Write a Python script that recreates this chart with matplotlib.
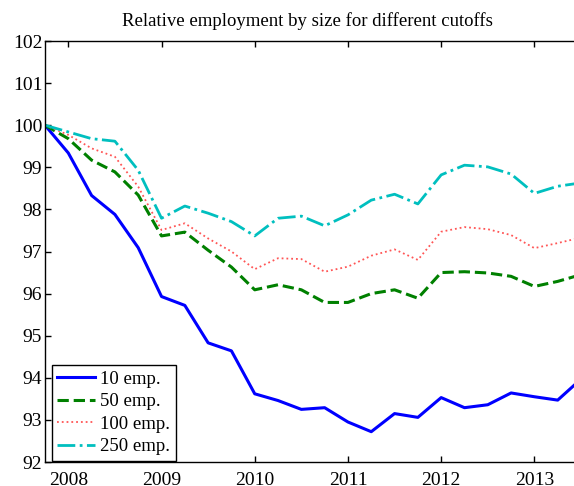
import matplotlib
matplotlib.use("Agg")
import matplotlib.pyplot as plt
import numpy as np

plt.rcParams['font.family'] = ['Liberation Serif', 'DejaVu Serif']
plt.rcParams['font.size'] = 13

quarters = [2007.75 + 0.25 * i for i in range(24)]
emp10 = [100.0, 99.34, 98.33, 97.88, 97.09, 95.93, 95.72, 94.83, 94.64, 93.62,
         93.46, 93.25, 93.29, 92.95, 92.72, 93.15, 93.06, 93.53, 93.29, 93.36,
         93.64, 93.55, 93.47, 93.97]
emp50 = [100.0, 99.68, 99.17, 98.89, 98.34, 97.37, 97.46, 97.03, 96.63, 96.09,
         96.21, 96.09, 95.79, 95.79, 96.00, 96.09, 95.89, 96.50, 96.52, 96.49,
         96.41, 96.17, 96.29, 96.45]
emp100 = [100.0, 99.77, 99.45, 99.25, 98.54, 97.51, 97.67, 97.31, 97.00, 96.58,
          96.84, 96.82, 96.52, 96.64, 96.90, 97.05, 96.80, 97.47, 97.58, 97.53,
          97.39, 97.08, 97.20, 97.33]
emp250 = [100.0, 99.84, 99.68, 99.62, 98.93, 97.79, 98.08, 97.91, 97.71, 97.37,
          97.79, 97.84, 97.61, 97.87, 98.22, 98.36, 98.13, 98.82, 99.05, 99.01,
          98.84, 98.38, 98.55, 98.63]
labels = ['10 emp.', '50 emp.', '100 emp.', '250 emp.']
xticks = [2008, 2009, 2010, 2011, 2012, 2013]
yticks = [92, 93, 94, 95, 96, 97, 98, 99, 100, 101, 102]

fig = plt.figure(figsize=(5.74, 4.86), dpi=100)
ax = fig.add_axes([45/574, 24/486, 536/574, 421/486])

ax.plot(quarters, emp10, color='#0000ff', lw=2.2, ls='-', label=labels[0])
ax.plot(quarters, emp50, color='#008000', lw=2.2, ls='--', label=labels[1])
ax.plot(quarters, emp100, color='#ff5555', lw=1.3, ls=':', label=labels[2])
ax.plot(quarters, emp250, color='#00bfbf', lw=2.0, ls='-.', label=labels[3])

ax.set_xlim(2007.75, 2013.5)
ax.set_ylim(92, 102)
ax.set_xticks(xticks)
ax.set_xticklabels([str(x) for x in xticks])
ax.set_yticks(yticks)
ax.set_yticklabels([str(y) for y in yticks])
ax.tick_params(direction='in', length=4, width=1, top=True, right=True,
               labelsize=14)
ax.tick_params(axis='x', pad=7)
ax.tick_params(axis='y', pad=2)
for s in ax.spines.values():
    s.set_linewidth(1.0)

ax.set_title('Relative employment by size for different cutoffs', fontsize=13.5,
             pad=11, x=0.489)
leg = ax.legend(loc='lower left', fontsize=13.5, frameon=True, fancybox=False,
                bbox_to_anchor=(6.7/536, 1.3/421), borderaxespad=0.0,
                handlelength=2.0, labelspacing=0.28,
                borderpad=0.3, handletextpad=0.3)
leg.get_frame().set_edgecolor('black')
leg.get_frame().set_linewidth(1.0)
leg.get_frame().set_alpha(1)

fig.savefig('out.png', dpi=100)
